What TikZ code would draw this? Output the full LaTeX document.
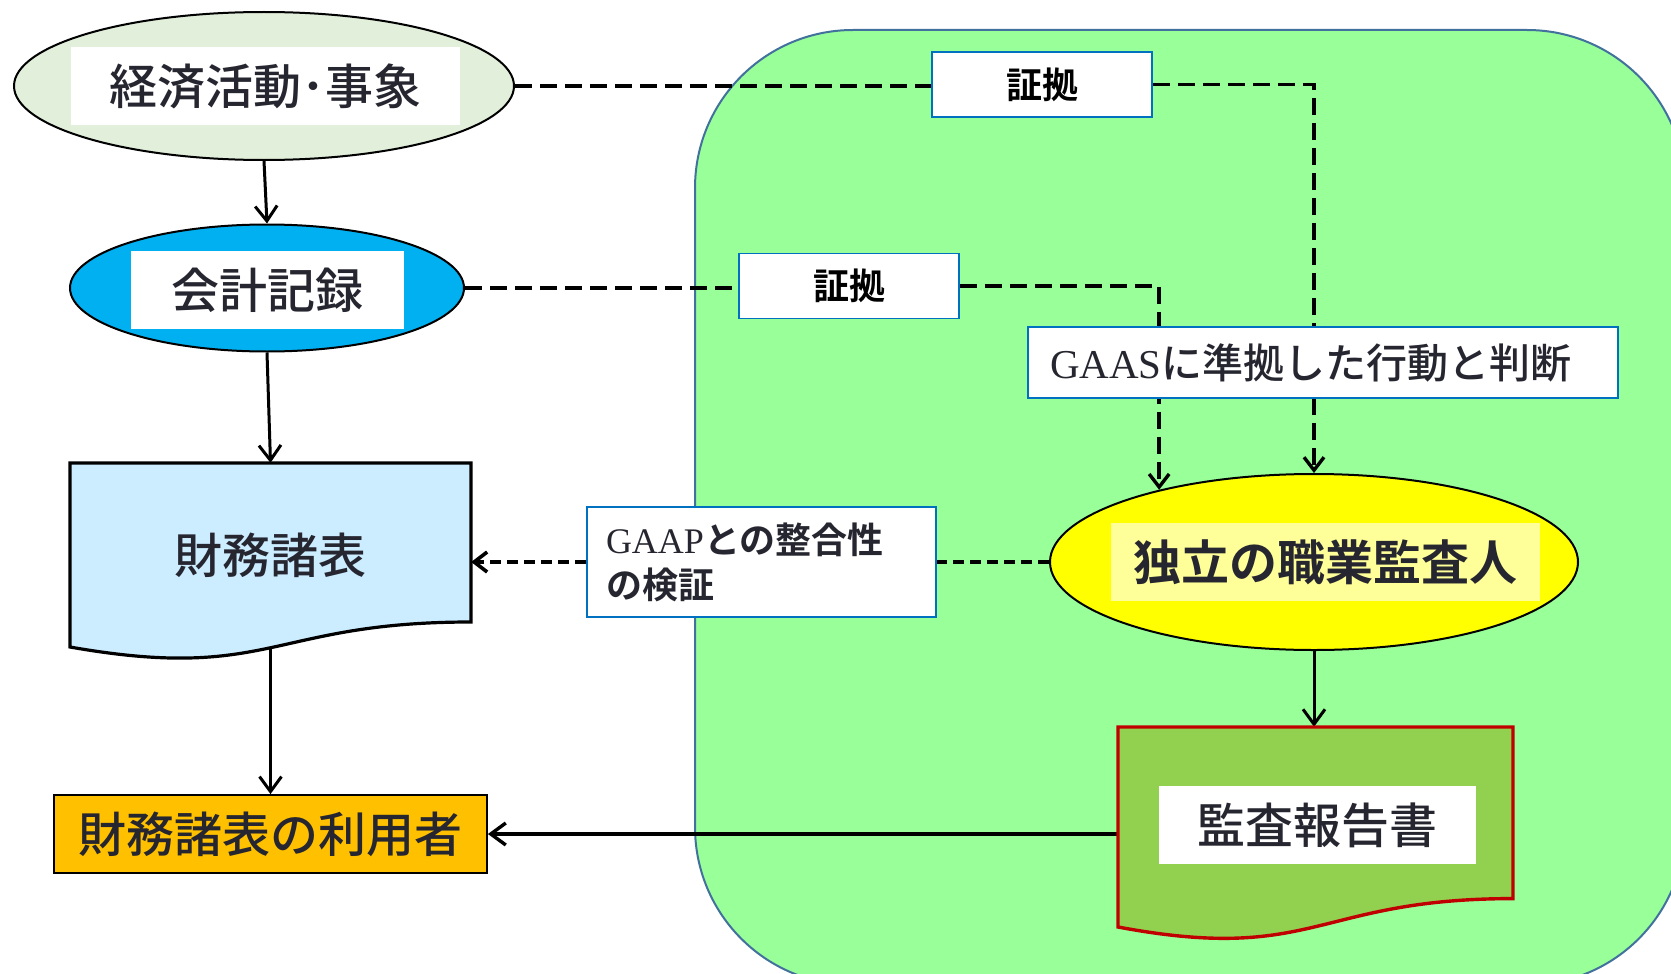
\documentclass[tikz,border=0pt]{standalone}
\usepackage{fontspec}
\setmainfont{Noto Sans CJK JP}[UprightFont={Noto Sans CJK JP Medium}, BoldFont={Noto Sans CJK JP Bold}]
\newfontfamily\lat{Liberation Serif}
\usetikzlibrary{arrows.meta,shapes.geometric,calc}
\definecolor{txt}{RGB}{38,38,48}
\definecolor{evfill}{RGB}{226,239,218}
\definecolor{accfill}{RGB}{0,176,240}
\definecolor{fsfill}{RGB}{204,236,255}
\definecolor{userfill}{RGB}{255,192,0}
\definecolor{greenbg}{RGB}{153,255,153}
\definecolor{greenln}{RGB}{65,113,156}
\definecolor{boxblue}{RGB}{0,112,192}
\definecolor{audfill}{RGB}{255,255,0}
\definecolor{audlab}{RGB}{255,255,153}
\definecolor{repfill}{RGB}{146,208,80}
\definecolor{repln}{RGB}{192,0,0}
\pgfdeclarelayer{back}\pgfdeclarelayer{mid}\pgfsetlayers{back,mid,main}
\begin{document}
\begin{tikzpicture}[x=1pt,y=-1pt,
  txtbig/.style={font=\fontsize{48}{56}\selectfont, text=txt},
  whitelab/.style={fill=white, inner sep=0pt, minimum height=78, txtbig},
  evid/.style={draw=boxblue, line width=1.8pt, fill=white, minimum width=220, minimum height=65, inner sep=0pt, font=\fontsize{36}{40}\selectfont\bfseries, text=black},
  ellipsenode/.style={ellipse, draw=black, line width=2pt, inner sep=0pt},
  solidarrow/.style={line width=3pt, -{Straight Barb[length=15pt,width=22pt]}},
  dline/.style={line width=3.4pt, dash pattern=on 17pt off 8pt},
  dlineshort/.style={line width=3.6pt, dash pattern=on 11pt off 6pt},
  darrowtip/.style={-{Straight Barb[length=13pt,width=20pt]}},
]
\useasboundingbox (0,0) rectangle (1671,974);
\begin{pgfonlayer}{back}
  \begin{scope}
    \clip (0,0) rectangle (1671,974);
    \filldraw[fill=greenbg, draw=greenln, line width=2pt, rounded corners=158pt] (695,30) rectangle (1685,985);
  \end{scope}
\end{pgfonlayer}

% left column
\node[ellipsenode, fill=evfill, minimum width=500, minimum height=148] (ev) at (264,86) {};
\node[whitelab, minimum width=389] (evl) at (265.5,86) {経済活動･事象};

\node[ellipsenode, fill=accfill, minimum width=394, minimum height=127] (acc) at (267,288) {};
\node[whitelab, minimum width=273] (accl) at (267.5,290) {会計記録};

\filldraw[fill=fsfill, draw=black, line width=3.2pt] (70,463) -- (471,463) -- (471,622) .. controls (270.5,622) and (270.5,682.3) .. (70,647) -- cycle;
\node[txtbig, minimum width=401, minimum height=185, inner sep=0pt] (fs) at (270.5,555.5) {財務諸表};

\node[draw=black, line width=1.8pt, fill=userfill, minimum width=433, minimum height=78, inner sep=0pt, txtbig] (user) at (270.5,834) {財務諸表の利用者};

% middle / right
\node[draw=boxblue, line width=1.8pt, fill=white, text width=311, align=left, inner xsep=19, inner ysep=0, minimum height=110, font=\fontsize{36}{45}\selectfont\bfseries, text=txt] (gaap) at (761.5,562) {{\lat\mdseries GAAP}との整合性\\の検証};

\node[evid] (ev1) at (1042,84.5) {証拠};
\node[evid] (ev2) at (849,286) {証拠};

\node[draw=boxblue, line width=1.8pt, fill=white, text width=546, align=left, inner xsep=22, inner ysep=0, minimum height=71, font=\fontsize{41}{48}\selectfont, text=txt] (gaas) at (1323,362.5) {{\lat GAAS}に準拠した行動と判断};

\node[ellipsenode, fill=audfill, minimum width=528, minimum height=176] (aud) at (1314,562) {};
\node[fill=audlab, inner sep=0pt, minimum width=429, minimum height=78, text=txt, font=\fontsize{48}{56}\selectfont\bfseries] (audl) at (1325.5,562) {独立の職業監査人};

\filldraw[fill=repfill, draw=repln, line width=3.4pt] (1118,727) -- (1513,727) -- (1513,898.6) .. controls (1315.5,898.6) and (1315.5,964) .. (1118,927) -- cycle;
\node[minimum width=395, minimum height=214, inner sep=0pt] (rep) at (1315.5,834) {};
\node[whitelab, minimum width=317] (repl) at (1317.5,825) {監査報告書};

\begin{pgfonlayer}{mid}
  \draw[solidarrow] (ev.south) -- (acc.north);
  \draw[solidarrow] (acc.south) -- (fs.north);
  \draw[solidarrow] (fs.south) -- (user.north);
  \draw[solidarrow, line width=3.4pt] (rep.west) -- (user.east);
  \draw[solidarrow] (aud.south) -- (aud.south |- rep.north);
  \draw[dline] (ev.east) -- (ev.east -| ev1.west);
  \draw[dline, darrowtip] (ev1.east) -| (aud.north);
  \draw[dline] (acc.east) -- (acc.east -| ev2.west);
  \draw[dline, darrowtip] (ev2.east) -| (aud.155);
  \draw[dlineshort] (aud.west) -- (gaap.east);
  \draw[dlineshort, darrowtip] (gaap.west) -- (gaap.west -| fs.east);
\end{pgfonlayer}
\end{tikzpicture}
\end{document}
